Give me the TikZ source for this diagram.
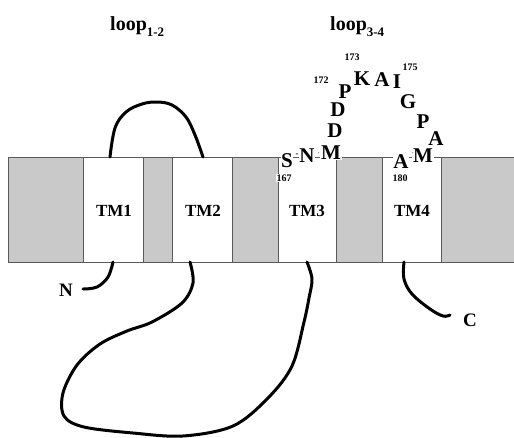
\documentclass[tikz,border=0pt]{standalone}
\usepackage{fontspec}
\setmainfont{Liberation Serif}
\begin{document}
\begin{tikzpicture}[x=1pt,y=-1pt,
  membline/.style={draw=black!65,line width=0.8pt},
  chain/.style={line width=3pt,line cap=round,line join=round},
  tmlabel/.style={font=\bfseries\fontsize{17}{17}\selectfont,inner sep=0pt},
  residue/.style={font=\bfseries\fontsize{21}{21}\selectfont,fill=white,inner sep=0.6pt},
  resnum/.style={font=\bfseries\fontsize{10}{10}\selectfont,fill=white,inner sep=0.6pt},
  termlabel/.style={font=\bfseries\fontsize{19}{19}\selectfont,inner sep=0pt},
  looptitle/.style={font=\bfseries\fontsize{20}{20}\selectfont,inner sep=0pt,anchor=base west},
  link/.style={font=\bfseries\fontsize{9}{9}\selectfont,inner sep=0pt}
]
\useasboundingbox (0,0) rectangle (514,437);
\fill[white] (0,0) rectangle (514,437);

% membrane band with the four transmembrane segments
\fill[black!21] (8,157) rectangle (514,262);
\foreach \a/\b in {83/143,172/232,278/336,382/441}
  \fill[white] (\a,157) rectangle (\b,262);
\draw[membline] (8,157) -- (514,157);
\draw[membline] (8,262) -- (514,262);
\foreach \x in {8,83,143,172,232,278,336,382,441}
  \draw[membline] (\x,157) -- (\x,262);

\node[tmlabel] (tm1) at (114,211) {TM1};
\node[tmlabel] (tm2) at (203,211) {TM2};
\node[tmlabel] (tm3) at (307,211) {TM3};
\node[tmlabel] (tm4) at (412,211) {TM4};

% attachment points of the chain on the membrane faces
\coordinate (tm1top) at (110,157);
\coordinate (tm2top) at (203,157);
\coordinate (tm1bot) at (113,262);
\coordinate (tm2bot) at (190,262);
\coordinate (tm3bot) at (307,262);
\coordinate (tm4bot) at (404,262);
\coordinate (nend) at (83,289);
\coordinate (cend) at (450,315);

% loop 1-2
\draw[chain] plot[smooth,tension=0.6] coordinates {(tm1top) (115,128) (126,112) (142,104) (157,102) (172,105) (186,117) (195,135) (tm2top)};
% N-terminal tail
\draw[chain] plot[smooth,tension=0.6] coordinates {(tm1bot) (108,277) (97,287) (nend)};
% cytoplasmic loop 2-3
\draw[chain] plot[smooth,tension=0.55] coordinates {(tm2bot) (193,283) (182,303) (152,322) (127,331) (100,344) (77,365) (63,393) (64,416) (84,427) (133,433) (183,436) (233,426) (268,398) (292,366) (304,322) (309,298) (312,279) (tm3bot)};
% C-terminal tail
\draw[chain] plot[smooth,tension=0.6] coordinates {(tm4bot) (404,279) (412,294) (430,309) (443,316) (cend)};

\node[termlabel] (nlab) at (66,290) {N};
\node[termlabel] (clab) at (470,320) {C};

% loop 3-4 residues
\node[residue] (s167) at (287,161) {S};
\node[residue] (n168) at (307,156) {N};
\node[residue] (m169) at (331,153) {M};
\node[residue] (d170) at (335,131) {D};
\node[residue] (d171) at (338,110) {D};
\node[residue] (p172) at (345,92) {P};
\node[residue] (k173) at (362,79) {K};
\node[residue] (a174) at (382,80) {A};
\node[residue] (i175) at (397,82) {I};
\node[residue] (g176) at (408,102) {G};
\node[residue] (p177) at (423,122) {P};
\node[residue] (a178) at (436,139) {A};
\node[residue] (m179) at (423,156) {M};
\node[residue] (a180) at (401,162) {A};

\node[link] (h1) at (297,155) {-};
\node[link] (h2) at (319,153) {$\cdot$};
\node[link] (h3) at (413,153) {$\cdot$};

\node[resnum] (num167) at (284,178) {167};
\node[resnum] (num172) at (321,80) {172};
\node[resnum] (num173) at (352,57) {173};
\node[resnum] (num175) at (410,67) {175};
\node[resnum] (num180) at (400,178) {180};

% loop titles
\node[looptitle] (t12) at (110,30) {loop\raisebox{-6pt}{\fontsize{13}{13}\selectfont 1-2}};
\node[looptitle] (t34) at (330,30) {loop\raisebox{-6pt}{\fontsize{13}{13}\selectfont 3-4}};
\end{tikzpicture}
\end{document}
